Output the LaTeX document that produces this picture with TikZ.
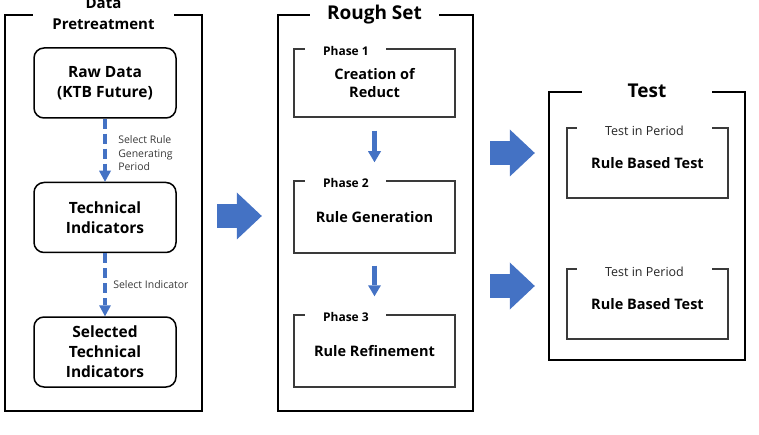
\documentclass[tikz,border=0pt]{standalone}
\usepackage{fontspec}
\setmainfont{Open Sans}
\usetikzlibrary{arrows.meta,positioning}

\definecolor{flowblue}{HTML}{4472C4}
\definecolor{framegray}{HTML}{3A3A3A}

\tikzset{
    frame/.style={draw=black, line width=2.4pt, minimum width=#1},
    roundbox/.style={draw=black, line width=1.5pt, rounded corners=10pt, minimum width=142pt, minimum height=70pt,
        align=center, font=\bfseries\fontsize{15.5}{20}\selectfont},
    phasebox/.style={draw=framegray, line width=1.5pt, minimum width=161pt, minimum height=70pt,
        align=center, font=\bfseries\fontsize{14.5}{18}\selectfont},
    gaptitle/.style={fill=white, inner sep=0pt, minimum height=16pt, font=\bfseries\fontsize{19}{21}\selectfont},
    phasetitle/.style={fill=white, inner sep=0pt, minimum height=10pt, font=\bfseries\fontsize{12}{13}\selectfont},
    periodtitle/.style={fill=white, inner sep=0pt, minimum height=10pt, text=black!85, font=\fontsize{12.5}{14}\selectfont},
    note/.style={font=\fontsize{10.5}{13.5}\selectfont, text=framegray, align=left, inner sep=0pt},
    dasharrow/.style={draw=flowblue, line width=4.5pt, dash pattern=on 10pt off 5pt,
        -{Triangle[length=11pt, width=12pt, line width=0pt]}},
    smallarrow/.style={draw=flowblue, line width=5.5pt, -{Triangle[length=11pt, width=13pt, line width=0pt]}},
    bigarrow/.style={draw=flowblue, line width=24pt, -{Triangle[length=25pt, width=47pt, line width=0pt]}}
}

\begin{document}
\begin{tikzpicture}[x=1pt, y=-1pt]
    \useasboundingbox (0,0) rectangle (759,435);

    % three stages
    \node[frame=197pt, minimum height=396pt] (pre) at (103.5,213) {};
    \node[frame=195pt, minimum height=396pt] (rough) at (375.5,213) {};
    \node[frame=196pt, minimum height=268pt] (test) at (647,226) {};

    \node[gaptitle, minimum width=141pt, align=center, font=\bfseries\fontsize{15}{21}\selectfont] (pretitle) at (103.5,14) {Data\\Pretreatment};
    \node[gaptitle, minimum width=129pt] (roughtitle) at (374.5,15) {Rough Set};
    \node[gaptitle, minimum width=130pt] (testtitle) at (647,91) {Test};

    % data pretreatment
    \node[roundbox] (raw) at (105,83) {Raw Data\\(KTB Future)};
    \node[roundbox] (tech) at (105,217.5) {Technical\\Indicators};
    \node[roundbox] (sel) at (105,352) {Selected\\Technical\\Indicators};

    \draw[dasharrow] (raw) -- node[note, right=11pt, yshift=-3pt] {Select Rule\\Generating\\Period} (tech);
    \draw[dasharrow] (tech) -- node[note, right=6pt] {Select Indicator} (sel);

    % rough set phases
    \node[phasebox, minimum height=68pt] (ph1) at (374.5,83) {Creation of\\Reduct};
    \node[phasebox, minimum height=72pt] (ph2) at (374.5,217) {Rule Generation};
    \node[phasebox, minimum height=72pt] (ph3) at (374.5,351) {Rule Refinement};

    \foreach \p in {1,2,3}
        \node[phasetitle, minimum width=81pt, anchor=west, yshift=-3pt] (ph\p title) at ([xshift=12pt]ph\p.north west) {Phase \p};

    \draw[smallarrow, shorten <=13pt, shorten >=18pt] (ph1) -- (ph2);
    \draw[smallarrow, shorten <=12pt, shorten >=18pt] (ph2) -- (ph3);

    % tests
    \node[phasebox, minimum height=70pt] (t1) at (647.5,163) {Rule Based Test};
    \node[phasebox, minimum height=70pt] (t2) at (647.5,304) {Rule Based Test};

    \node[periodtitle, minimum width=135pt, yshift=-4pt] (t1title) at ([xshift=-3pt]t1.north) {Test in Period};
    \node[periodtitle, minimum width=135pt, yshift=-4pt] (t2title) at ([xshift=-3pt]t2.north) {Test in Period};

    % flow between stages
    \draw[bigarrow] ([xshift=14pt, yshift=-3pt]pre.east) -- ([xshift=-15pt, yshift=-3pt]rough.west);
    \draw[bigarrow] ([xshift=16pt, yshift=60pt]rough.east) -- ([xshift=-13pt, yshift=73pt]test.west);
    \draw[bigarrow] ([xshift=16pt, yshift=-73pt]rough.east) -- ([xshift=-13pt, yshift=-60pt]test.west);

\end{tikzpicture}
\end{document}
